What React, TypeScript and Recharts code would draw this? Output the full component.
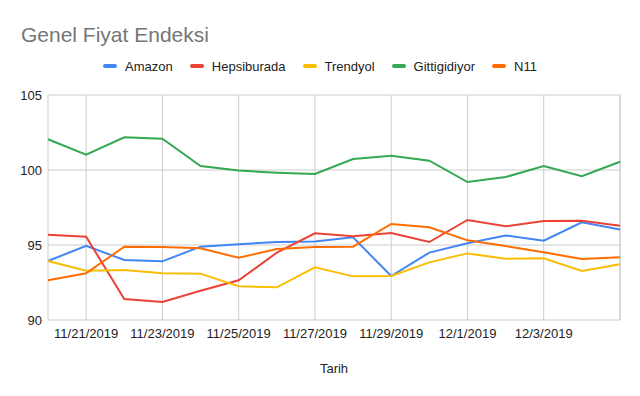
import { LineChart, Line, XAxis, YAxis, CartesianGrid, ReferenceLine } from "recharts"

const dates = [
  "11/20/2019", "11/21/2019", "11/22/2019", "11/23/2019", "11/24/2019", "11/25/2019",
  "11/26/2019", "11/27/2019", "11/28/2019", "11/29/2019", "11/30/2019", "12/1/2019",
  "12/2/2019", "12/3/2019", "12/4/2019", "12/5/2019",
]
const xTicks = ["11/21/2019", "11/23/2019", "11/25/2019", "11/27/2019", "11/29/2019", "12/1/2019", "12/3/2019"]
const yTicks = [90, 95, 100, 105]

const amazon = [93.93, 94.95, 94.0, 93.91, 94.89, 95.05, 95.2, 95.24, 95.51, 92.93, 94.49, 95.11, 95.64, 95.29, 96.51, 96.04]
const hepsiburada = [95.69, 95.55, 91.4, 91.2, 91.95, 92.65, 94.49, 95.78, 95.58, 95.8, 95.2, 96.67, 96.25, 96.6, 96.62, 96.29]
const trendyol = [93.93, 93.29, 93.33, 93.11, 93.09, 92.25, 92.18, 93.51, 92.91, 92.93, 93.84, 94.44, 94.09, 94.11, 93.27, 93.71]
const gittigidiyor = [102.05, 101.02, 102.18, 102.09, 100.27, 99.96, 99.82, 99.73, 100.73, 100.95, 100.62, 99.2, 99.53, 100.27, 99.58, 100.55]
const n11 = [92.65, 93.11, 94.89, 94.87, 94.78, 94.15, 94.73, 94.87, 94.89, 96.4, 96.18, 95.31, 94.93, 94.51, 94.07, 94.18]

const series = [
  { name: "Amazon", values: amazon, color: "#4285F4" },
  { name: "Hepsiburada", values: hepsiburada, color: "#EA4335" },
  { name: "Trendyol", values: trendyol, color: "#FBBC04" },
  { name: "Gittigidiyor", values: gittigidiyor, color: "#34A853" },
  { name: "N11", values: n11, color: "#FF6D01" },
]

const data = dates.map((d, i) => {
  const row: Record<string, string | number> = { date: d }
  series.forEach((s) => (row[s.name] = s.values[i]))
  return row
})

export default function App() {
  return (
    <div
      style={{
        position: "absolute",
        left: 0,
        top: 0,
        width: 640,
        height: 396,
        background: "#fff",
        fontFamily: "'Liberation Sans', Arial, sans-serif",
      }}
    >
      <div style={{ position: "absolute", left: 21, top: 24, fontSize: 21, lineHeight: "21px", color: "#757575" }}>
        Genel Fiyat Endeksi
      </div>
      <div
        style={{
          position: "absolute",
          left: 0,
          top: 58,
          width: 640,
          height: 16,
          display: "flex",
          justifyContent: "center",
          alignItems: "center",
          fontSize: 13,
          color: "#222",
        }}
      >
        {series.map((s, i) => (
          <div key={s.name} style={{ display: "flex", alignItems: "center", marginLeft: i === 0 ? 0 : 17 }}>
            <span style={{ width: 14, height: 4, borderRadius: 2, background: s.color, marginRight: 8 }} />
            <span>{s.name}</span>
          </div>
        ))}
      </div>
      <LineChart width={640} height={396} data={data} margin={{ top: 95, right: 20, left: 0, bottom: 0 }}>
        <CartesianGrid stroke="#ccc" />
        <XAxis
          dataKey="date"
          ticks={xTicks}
          interval={0}
          height={76}
          tickSize={0}
          tickMargin={9}
          axisLine={false}
          tickLine={false}
          tick={{ fontSize: 13, fill: "#222" }}
          label={{ value: "Tarih", position: "insideBottom", offset: 23, fontSize: 13, fill: "#222" }}
        />
        <YAxis
          width={48}
          domain={[90, 105]}
          ticks={yTicks}
          tickSize={0}
          tickMargin={6}
          axisLine={false}
          tickLine={false}
          tick={{ fontSize: 13, fill: "#222" }}
        />
        <ReferenceLine x="12/5/2019" stroke="#ccc" />
        {series.map((s) => (
          <Line
            key={s.name}
            type="linear"
            dataKey={s.name}
            stroke={s.color}
            strokeWidth={2}
            dot={false}
            isAnimationActive={false}
          />
        ))}
      </LineChart>
    </div>
  )
}
